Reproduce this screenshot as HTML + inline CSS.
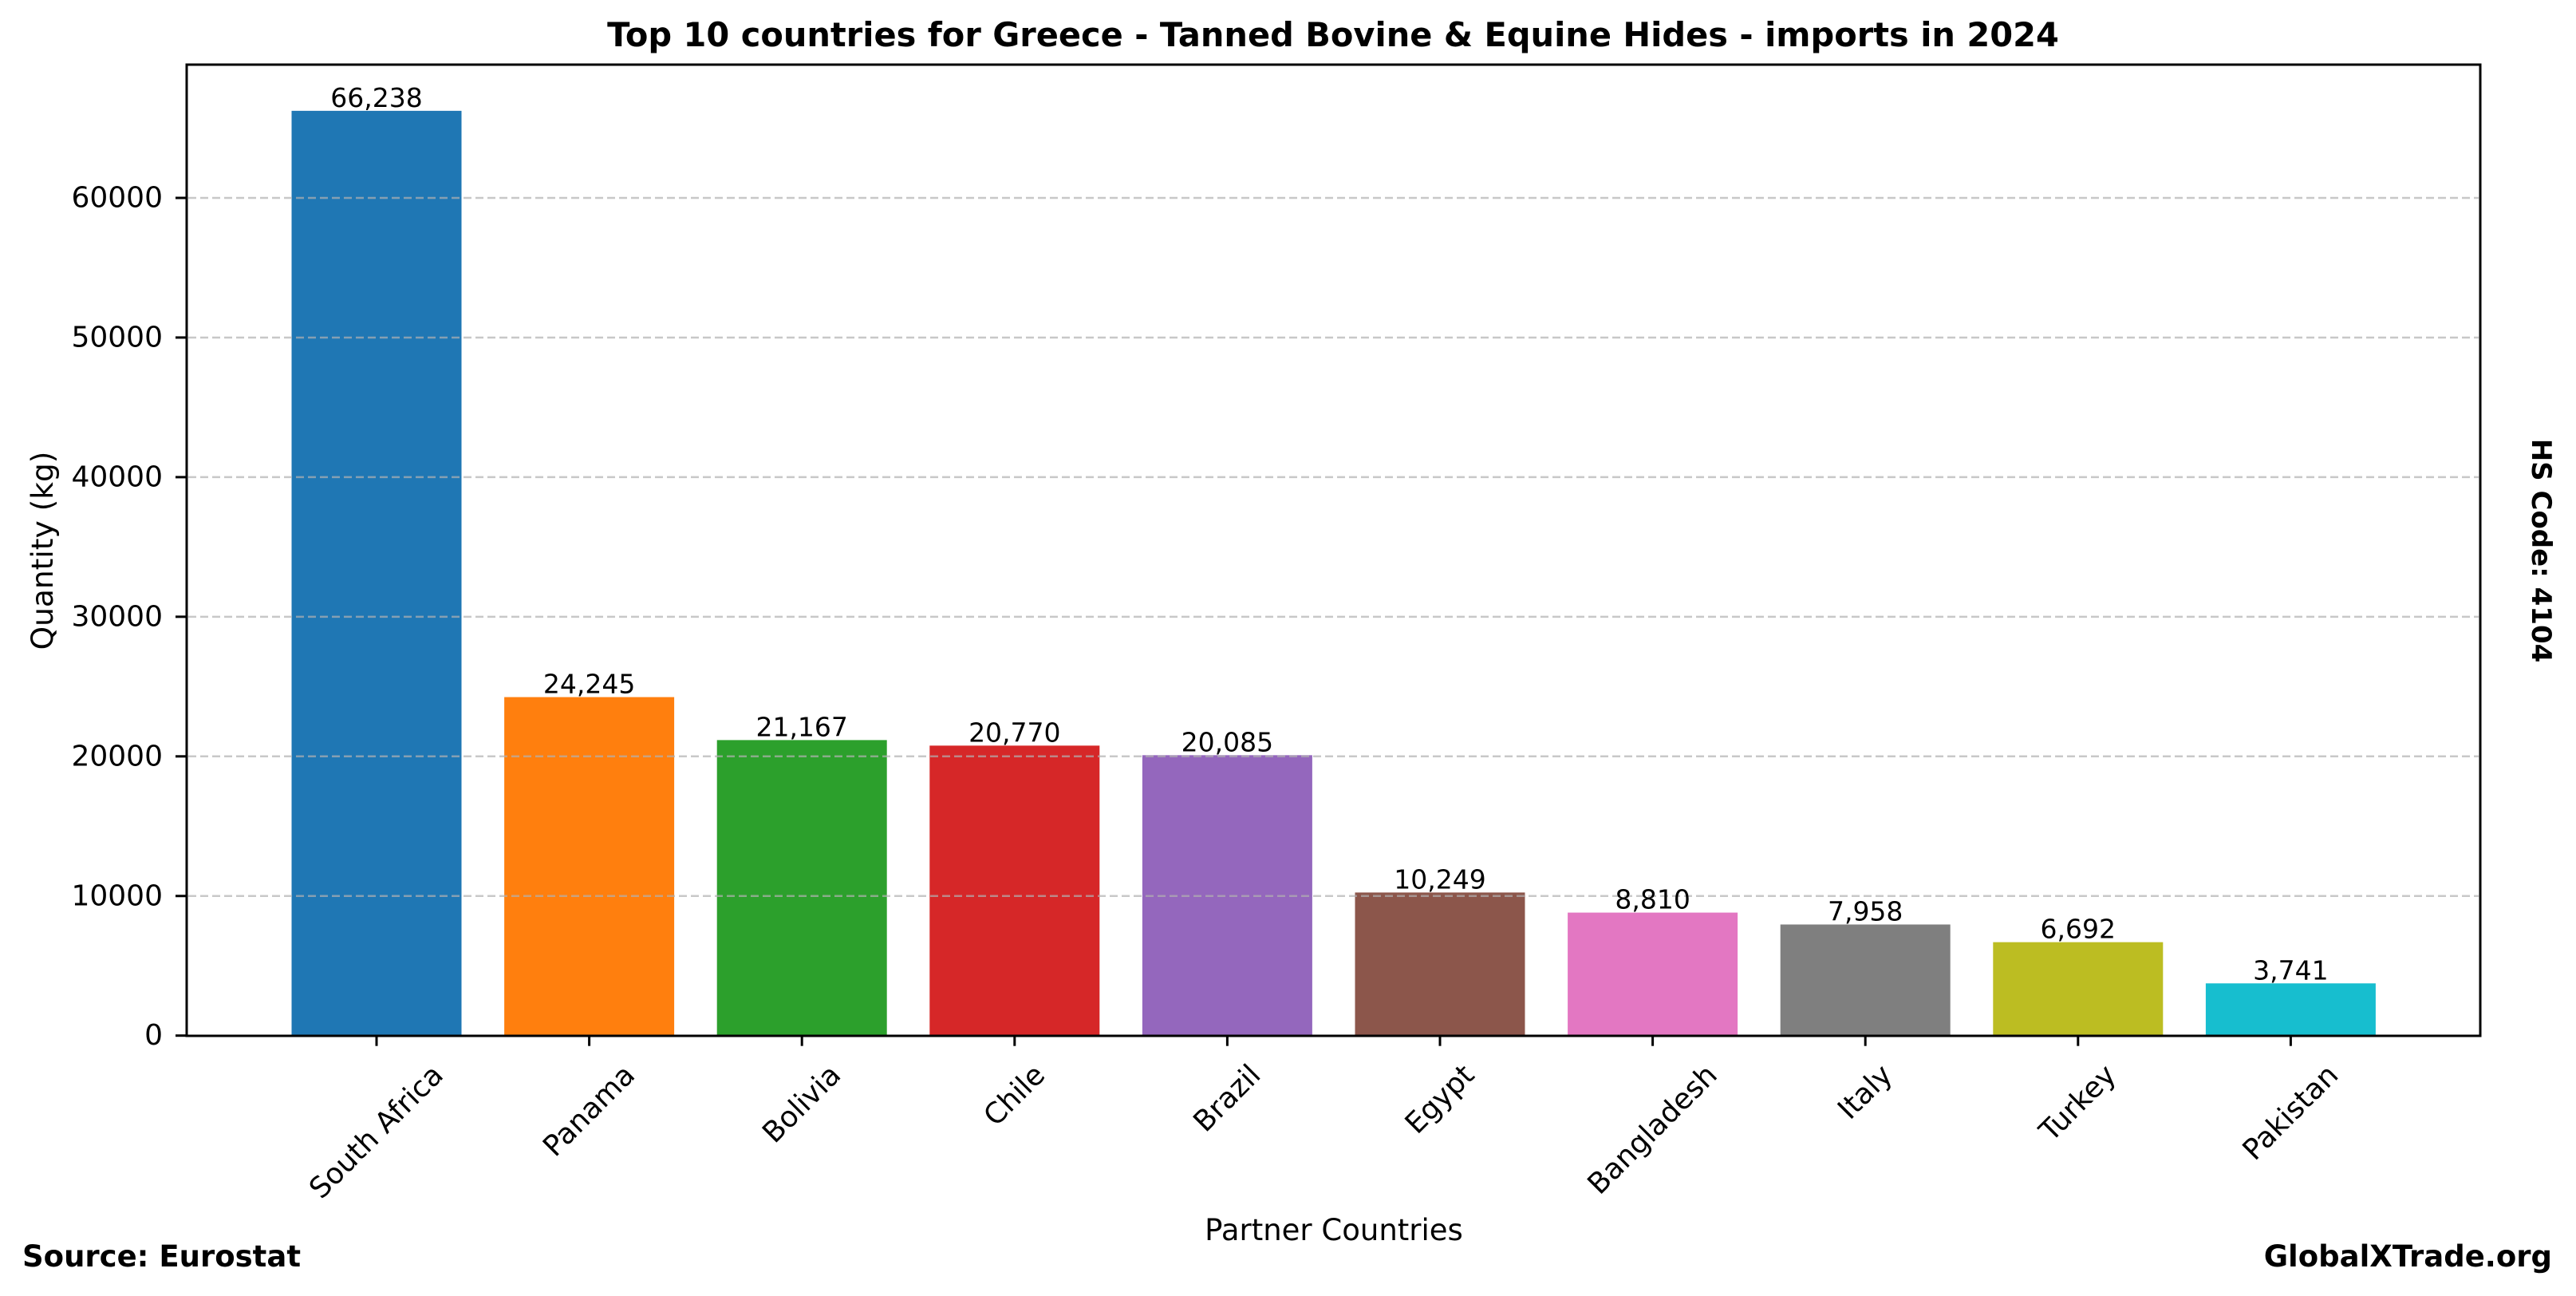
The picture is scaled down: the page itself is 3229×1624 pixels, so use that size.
<!DOCTYPE html>
<html><head><meta charset="utf-8"><style>
html,body{margin:0;padding:0;background:#fff}
svg{display:block}
text{font-family:"DejaVu Sans","Liberation Sans",sans-serif;fill:#000}
</style></head><body>
<svg id="s" width="3229" height="1624" viewBox="0 0 3229 1624" xmlns="http://www.w3.org/2000/svg">
<rect width="3229" height="1624" fill="#fff"/>
<g id="bars"></g>
<g id="grid" stroke="#b0b0b0" stroke-opacity="0.7" stroke-width="2.5" stroke-dasharray="10,5"></g>
<rect x="234" y="81" width="2875" height="1217" fill="none" stroke="#000" stroke-width="3"/>
<g id="ticks" stroke="#000" stroke-width="3"></g>
<g id="labels"></g>
<text x="1671" y="58" font-size="41.5" font-weight="bold" text-anchor="middle">Top 10 countries for Greece - Tanned Bovine &amp; Equine Hides - imports in 2024</text>
<text x="1672" y="1554" font-size="37" text-anchor="middle">Partner Countries</text>
<text transform="translate(66,690) rotate(-90)" font-size="37.5" text-anchor="middle">Quantity (kg)</text>
<text transform="translate(3174,690) rotate(90)" font-size="34" font-weight="bold" text-anchor="middle">HS Code: 4104</text>
<text x="28" y="1587" font-size="37" font-weight="bold">Source: Eurostat</text>
<text x="3199" y="1587" font-size="37" font-weight="bold" text-anchor="end">GlobalXTrade.org</text>
</svg>
<script>
var NS="http://www.w3.org/2000/svg";
function el(t,a,p,txt){var e=document.createElementNS(NS,t);for(var k in a)e.setAttribute(k,a[k]);if(txt!=null)e.textContent=txt;document.getElementById(p).appendChild(e);return e;}
var y0=1297.7,k=17.495/1000;
var data=[["South Africa",66238,"#1f77b4"],["Panama",24245,"#ff7f0e"],["Bolivia",21167,"#2ca02c"],["Chile",20770,"#d62728"],["Brazil",20085,"#9467bd"],["Egypt",10249,"#8c564b"],["Bangladesh",8810,"#e377c2"],["Italy",7958,"#7f7f7f"],["Turkey",6692,"#bcbd22"],["Pakistan",3741,"#17becf"]];
for(var g=10000;g<=60000;g+=10000){var y=y0-g*k;el("line",{x1:236,x2:3107,y1:y,y2:y},"grid");}
for(var g=0;g<=60000;g+=10000){var y=y0-g*k;el("line",{x1:220,x2:234,y1:y,y2:y},"ticks");
 el("text",{x:204,y:y,"font-size":36,"text-anchor":"end","dominant-baseline":"central"},"labels",String(g));}
data.forEach(function(d,i){
 var cx=472+i*266.6,h=d[1]*k,top=y0-h;
 el("rect",{x:cx-106.5,y:top,width:213,height:h,fill:d[2]},"bars");
 el("line",{x1:cx,x2:cx,y1:y0,y2:y0+13},"ticks");
 el("text",{x:cx,y:top-5,"font-size":33,"text-anchor":"middle"},"labels",d[1].toLocaleString("en-US"));
 var t=el("text",{x:0,y:0,"font-size":36,"text-anchor":"middle","dominant-baseline":"central"},"labels",d[0]);
 var L=t.getComputedTextLength?t.getComputedTextLength():d[0].length*20;
 var bh=(L+37)*0.7071;
 t.setAttribute("transform","translate("+cx+","+(1328+bh/2)+") rotate(-45)");
});
</script>
</body></html>
